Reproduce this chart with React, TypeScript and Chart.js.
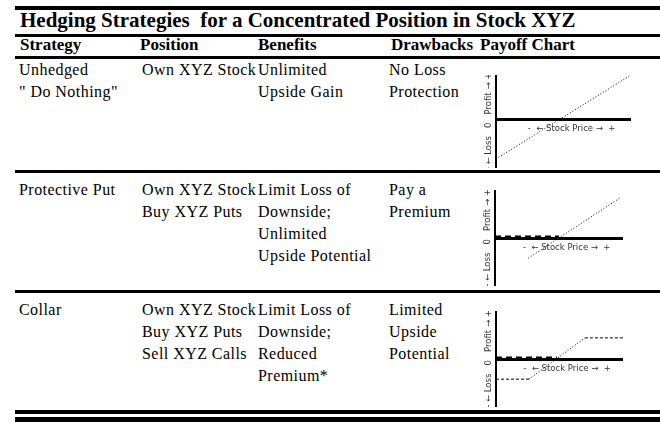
import React, { useEffect, useRef } from "react";
import { Chart, registerables } from "chart.js";

Chart.register(...registerables);

const titleText = "Hedging Strategies  for a Concentrated Position in Stock XYZ";
const headers = ["Strategy", "Position", "Benefits", "Drawbacks", "Payoff Chart"];
const strategies = [["Unhedged", "\" Do Nothing\""], ["Protective Put"], ["Collar"]];
const positions = [["Own XYZ Stock"], ["Own XYZ Stock", "Buy XYZ Puts"], ["Own XYZ Stock", "Buy XYZ Puts", "Sell XYZ Calls"]];
const benefits = [["Unlimited", "Upside Gain"], ["Limit Loss of", "Downside;", "Unlimited", "Upside Potential"], ["Limit Loss of", "Downside;", "Reduced", "Premium*"]];
const drawbacks = [["No Loss", "Protection"], ["Pay a", "Premium"], ["Limited", "Upside", "Potential"]];

const yAxisLabel = "- \u2190 Loss   0   Profit \u2192 +";
const xAxisLabel = "-  \u2190 Stock Price \u2192  +";

const priceRange = [0, 10];
const unhedgedRange = [-1.02, 0.92];
const hedgedRange = [-1, 1];

const unhedgedStock = [{ x: 0, y: -0.83 }, { x: 10, y: 0.92 }];
const putStock = [{ x: 2.6, y: -0.42 }, { x: 9.85, y: 0.85 }];
const putFloor = [{ x: 0, y: 0.03 }, { x: 5, y: 0.03 }];
const collarLow = [{ x: 0, y: -0.42 }, { x: 2.6, y: -0.42 }];
const collarRise = [{ x: 2.6, y: -0.42 }, { x: 7, y: 0.44 }];
const collarHigh = [{ x: 7, y: 0.44 }, { x: 10, y: 0.44 }];
const collarFloor = [{ x: 0, y: 0.03 }, { x: 4.8, y: 0.03 }];

const dotted = (data: any) => ({ data, borderColor: "#000", borderWidth: 1, borderDash: [1, 2], pointRadius: 0, clip: false });
const thinDash = (data: any) => ({ data, borderColor: "#000", borderWidth: 1, borderDash: [3, 2], pointRadius: 0, clip: false });
const thickDash = (data: any) => ({ data, borderColor: "#000", borderWidth: 2, borderDash: [6, 4], pointRadius: 0, clip: false });

const chartSpecs = [
  { left: 484, top: 75, width: 147, height: 93, yRange: unhedgedRange, datasets: [dotted(unhedgedStock)] },
  { left: 483, top: 190, width: 140, height: 96, yRange: hedgedRange, datasets: [thickDash(putFloor), dotted(putStock)] },
  { left: 484, top: 311, width: 139, height: 96, yRange: hedgedRange, datasets: [thickDash(collarFloor), thinDash(collarLow), dotted(collarRise), thinDash(collarHigh)] },
];

const notePlugin = {
  id: "axisNote",
  afterDraw(chart: any) {
    const xs = chart.scales.x;
    const ys = chart.scales.y;
    const ctx = chart.ctx;
    ctx.save();
    ctx.font = "8.5px 'DejaVu Sans'";
    ctx.fillStyle = "#333";
    ctx.textAlign = "center";
    ctx.textBaseline = "middle";
    ctx.fillText(xAxisLabel, xs.getPixelForValue(5.6), ys.getPixelForValue(0) + 10);
    ctx.restore();
  },
};

function Payoff({ spec }: { spec: any }) {
  const ref = useRef<HTMLCanvasElement>(null);
  useEffect(() => {
    const chart = new Chart(ref.current!, {
      type: "line",
      data: { datasets: spec.datasets },
      options: {
        animation: false,
        responsive: false,
        events: [],
        layout: { padding: 0 },
        plugins: { legend: { display: false }, tooltip: { enabled: false } },
        scales: {
          x: {
            type: "linear",
            min: priceRange[0],
            max: priceRange[1],
            position: { y: 0 } as any,
            grid: { display: false, drawTicks: false },
            ticks: { display: false },
            border: { display: true, color: "#000", width: 3 },
          },
          y: {
            type: "linear",
            min: spec.yRange[0],
            max: spec.yRange[1],
            grid: { display: false, drawTicks: false },
            ticks: { display: false },
            border: { display: true, color: "#000", width: 2 },
            title: { display: true, text: yAxisLabel, font: { family: "DejaVu Sans", size: 8.5 }, color: "#333", padding: 0 },
            afterFit: (s: any) => { s.width = 12; },
          },
        },
      },
      plugins: [notePlugin],
    });
    return () => chart.destroy();
  }, []);
  return (
    <canvas
      ref={ref}
      width={spec.width}
      height={spec.height}
      style={{ position: "absolute", left: spec.left, top: spec.top, width: spec.width, height: spec.height }}
    />
  );
}

const rule = (top: number, height: number) => (
  <div style={{ position: "absolute", left: 15, width: 645, top, height, background: "#000" }} />
);

const colLeft = [19, 142, 258, 389];
const colWidth = [123, 116, 131, 90];
const rowTops = [59, 179, 299];

export default function App() {
  const cols = [strategies, positions, benefits, drawbacks];
  return (
    <div style={{ position: "absolute", left: 0, top: 0, width: 660, height: 427, background: "#fff", overflow: "hidden", fontFamily: "'Liberation Serif', 'Times New Roman', serif", color: "#000" }}>
      {rule(6, 4)}
      <div style={{ position: "absolute", left: 20, top: 5, fontSize: 21, fontWeight: "bold", lineHeight: "30px", whiteSpace: "pre" }}>{titleText}</div>
      {rule(34, 3)}
      {headers.map((h, i) => (
        <div key={h} style={{ position: "absolute", left: [20, 140, 258, 391, 480][i], top: 35, fontSize: 17, fontWeight: "bold", lineHeight: "20px", whiteSpace: "pre" }}>{h}</div>
      ))}
      {rule(56, 3)}
      {rule(170, 3)}
      {rule(290, 3)}
      {cols.map((col, c) =>
        col.map((lines, r) => (
          <div key={c + "-" + r} style={{ position: "absolute", left: colLeft[c], top: rowTops[r], width: colWidth[c] + 4, fontSize: 16, lineHeight: "22px", letterSpacing: "0.45px", whiteSpace: "pre" }}>
            {lines.map((t, k) => <div key={k}>{t}</div>)}
          </div>
        ))
      )}
      {chartSpecs.map((s, i) => <Payoff key={i} spec={s} />)}
      {rule(410, 4)}
      {rule(417, 5)}
    </div>
  );
}
